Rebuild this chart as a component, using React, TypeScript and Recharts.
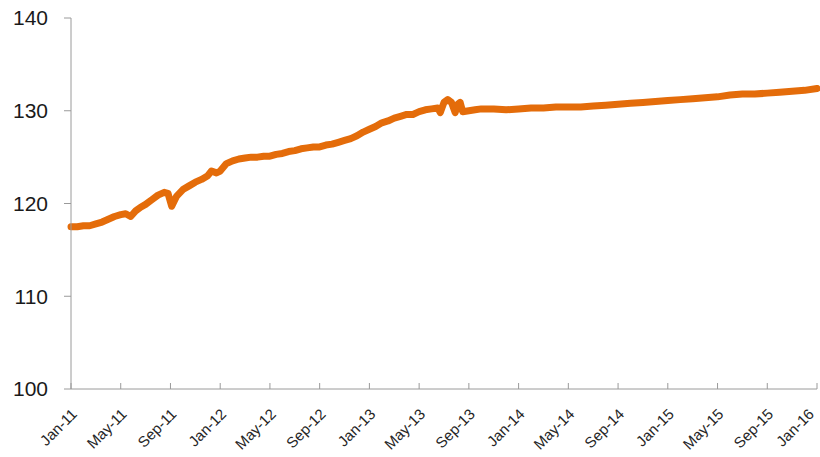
import React from "react";
import { LineChart, Line, XAxis, YAxis } from "recharts";

const ORANGE = "#E46C0A";
const AXIS = "#9a9a9a";

// months since Jan-11 (x) and index level (y)
const months = [
  0, 0.5, 1, 1.5, 2, 2.5, 3, 3.5, 4, 4.4, 4.8, 5.2, 5.6, 6, 6.5, 7, 7.5, 7.8, 8.1, 8.5, 9, 9.5, 10, 10.5, 11, 11.3,
  11.7, 12, 12.5, 13, 13.5, 14, 14.5, 15, 15.5, 16, 16.5, 17, 17.5, 18, 18.5, 19, 19.5, 20, 20.5, 21, 21.5, 22,
  22.5, 23, 23.5, 24, 24.5, 25, 25.5, 26, 26.5, 27, 27.5, 28, 28.5, 29, 29.5, 29.7, 30, 30.3, 30.6, 30.9, 31.1,
  31.3, 31.5, 32, 32.5, 33, 34, 35, 36, 37, 38, 39, 40, 41, 42, 43, 44, 45, 46, 47, 48, 49, 50, 51, 52, 53, 54, 55,
  56, 57, 58, 59, 60,
];
const values = [
  117.5, 117.5, 117.6, 117.6, 117.8, 118.0, 118.3, 118.6, 118.8, 118.9, 118.6, 119.2, 119.6, 119.9, 120.4, 120.9,
  121.2, 121.1, 119.7, 120.8, 121.5, 121.9, 122.3, 122.6, 123.0, 123.5, 123.3, 123.5, 124.3, 124.6, 124.8, 124.9,
  125.0, 125.0, 125.1, 125.1, 125.3, 125.4, 125.6, 125.7, 125.9, 126.0, 126.1, 126.1, 126.3, 126.4, 126.6, 126.8,
  127.0, 127.3, 127.7, 128.0, 128.3, 128.7, 128.9, 129.2, 129.4, 129.6, 129.6, 129.9, 130.1, 130.2, 130.3, 129.8,
  130.9, 131.2, 130.9, 129.8, 130.7, 130.9, 129.9, 130.0, 130.1, 130.2, 130.2, 130.1, 130.2, 130.3, 130.3, 130.4,
  130.4, 130.4, 130.5, 130.6, 130.7, 130.8, 130.9, 131.0, 131.1, 131.2, 131.3, 131.4, 131.5, 131.7, 131.8, 131.8,
  131.9, 132.0, 132.1, 132.2, 132.4,
];
const tickMonths = [0, 4, 8, 12, 16, 20, 24, 28, 32, 36, 40, 44, 48, 52, 56, 60];
const tickLabels = [
  "Jan-11", "May-11", "Sep-11", "Jan-12", "May-12", "Sep-12", "Jan-13", "May-13",
  "Sep-13", "Jan-14", "May-14", "Sep-14", "Jan-15", "May-15", "Sep-15", "Jan-16",
];
const yTicks = [100, 110, 120, 130, 140];

const data = months.map((m, i) => ({ m, v: values[i] }));

function DateTick({ x, y, payload }: any) {
  const label = tickLabels[tickMonths.indexOf(payload.value)];
  const tx = Math.min(x + 7, 815);
  const ty = y + 26;
  return (
    <g>
      <line x1={x} x2={x} y1={y - 6} y2={y} stroke={AXIS} />
      <text
        x={tx}
        y={ty}
        textAnchor="end"
        fontSize={15}
        fill="#262626"
        fontFamily="'Liberation Sans', Arial, sans-serif"
        transform={`rotate(-45, ${tx}, ${ty})`}
      >
        {label}
      </text>
    </g>
  );
}

export default function App() {
  return (
    <div style={{ position: "absolute", left: 0, top: 0, background: "#fff" }}>
      <LineChart width={820} height={457} data={data} margin={{ top: 18, right: 3, bottom: 0, left: 0 }}>
        <XAxis
          dataKey="m"
          type="number"
          domain={[0, 60]}
          ticks={tickMonths}
          interval={0}
          height={68}
          tickSize={0}
          tickMargin={0}
          tickLine={false}
          stroke={AXIS}
          tick={<DateTick />}
        />
        <YAxis
          domain={[100, 140]}
          ticks={yTicks}
          interval={0}
          width={71}
          tickSize={7}
          tickMargin={16}
          stroke={AXIS}
          tick={{ fill: "#1a1a1a", fontSize: 21, fontFamily: "'Liberation Sans', Arial, sans-serif" }}
        />
        <Line
          dataKey="v"
          stroke={ORANGE}
          strokeWidth={7}
          strokeLinejoin="round"
          strokeLinecap="round"
          dot={false}
          type="linear"
          isAnimationActive={false}
        />
      </LineChart>
    </div>
  );
}
